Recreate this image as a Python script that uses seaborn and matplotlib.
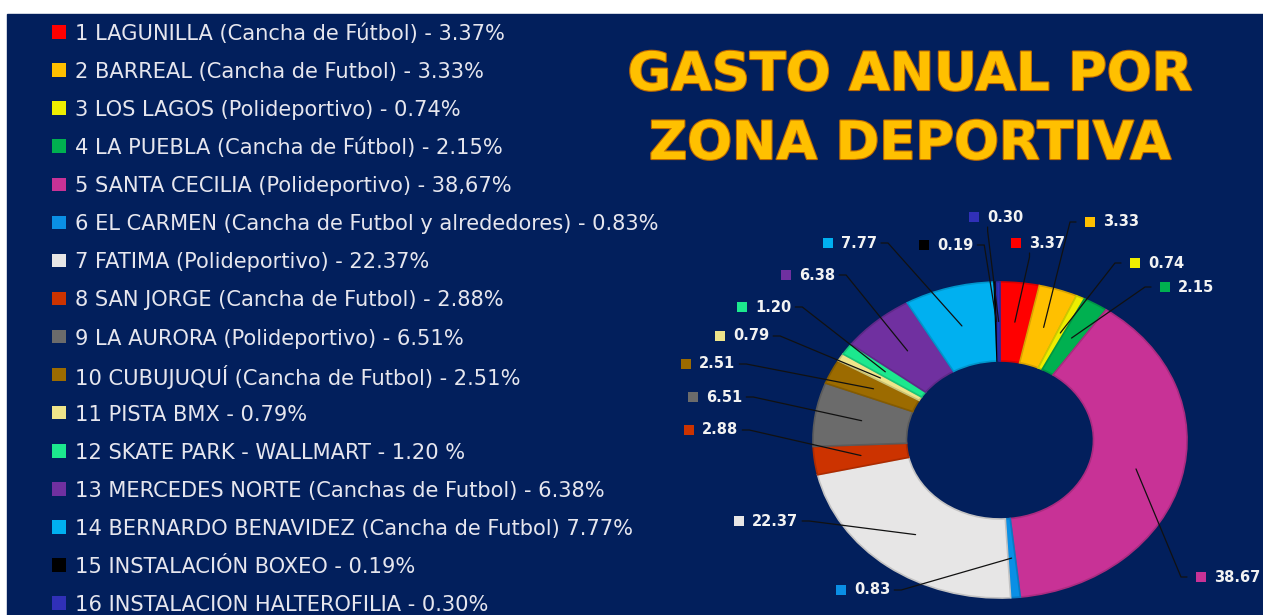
import numpy as np
import pandas as pd
import matplotlib
matplotlib.use("Agg")
import matplotlib.pyplot as plt
import matplotlib.colors as mcolors
import matplotlib.patheffects as pe
from matplotlib.patches import Rectangle
import seaborn as sns

# ---------------- data ----------------
legend_names = [
    "1 LAGUNILLA (Cancha de Fútbol) - 3.37%",
    "2 BARREAL (Cancha de Futbol) - 3.33%",
    "3 LOS LAGOS (Polideportivo) - 0.74%",
    "4 LA PUEBLA (Cancha de Fútbol) - 2.15%",
    "5 SANTA CECILIA (Polideportivo) - 38,67%",
    "6 EL CARMEN (Cancha de Futbol y alrededores) - 0.83%",
    "7 FATIMA (Polideportivo) - 22.37%",
    "8 SAN JORGE (Cancha de Futbol) - 2.88%",
    "9 LA AURORA (Polideportivo) - 6.51%",
    "10 CUBUJUQUÍ (Cancha de Futbol) - 2.51%",
    "11 PISTA BMX - 0.79%",
    "12 SKATE PARK - WALLMART - 1.20 %",
    "13 MERCEDES NORTE (Canchas de Futbol) - 6.38%",
    "14 BERNARDO BENAVIDEZ (Cancha de Futbol) 7.77%",
    "15 INSTALACIÓN BOXEO - 0.19%",
    "16 INSTALACION HALTEROFILIA - 0.30%",
]
values = [3.37, 3.33, 0.74, 2.15, 38.67, 0.83, 22.37, 2.88,
          6.51, 2.51, 0.79, 1.20, 6.38, 7.77, 0.19, 0.30]
value_labels = ["3.37", "3.33", "0.74", "2.15", "38.67", "0.83", "22.37", "2.88",
                "6.51", "2.51", "0.79", "1.20", "6.38", "7.77", "0.19", "0.30"]
title_lines = ["GASTO ANUAL POR", "ZONA DEPORTIVA"]

# ---------------- styles / layout ----------------
colors = ["#FF0000", "#FFC000", "#EEEE00", "#00B050", "#C83296", "#0A8FE5",
          "#E7E6E6", "#CC3300", "#6B6B6B", "#9C6B00", "#EEE48A", "#1CE88E",
          "#7030A0", "#00B0F0", "#000000", "#3030B8"]
NAVY = "#021F5C"
W, H = 1263, 615
# label square centres (pixels from top-left) and leader attachment side
label_layout = [
    (1016, 243, "bottom"), (1090, 222, "left"), (1135, 263, "left"), (1165, 287, "left"),
    (1201, 577, "left"), (841, 590, "right"), (739, 521, "right"), (689, 430, "right"),
    (693, 397, "right"), (686, 364, "right"), (720, 336, "right"), (742, 307, "right"),
    (786, 275, "right"), (828, 243, "right"), (924, 245, "right"), (974, 217, "bottom"),
]
pie_cx, pie_cy, pie_rx, pie_ry = 1000, 440, 187, 158

sns.set_style("white")
plt.rcParams["font.family"] = ["DejaVu Sans"]

fig = plt.figure(figsize=(W / 100, H / 100), dpi=100, facecolor="white")
fig.add_artist(Rectangle((7 / W, 0), (W - 7) / W, (H - 14) / H,
                         transform=fig.transFigure, color=NAVY, zorder=-10))

# pie axes (stretched horizontally like the original)
L = 1.1
ax_pie = fig.add_axes([(pie_cx - L * pie_rx) / W, (H - pie_cy - L * pie_ry) / H,
                       2 * L * pie_rx / W, 2 * L * pie_ry / H])
wedges, _ = ax_pie.pie(values, colors=colors, startangle=90, counterclock=False,
                       wedgeprops=dict(width=0.5, linewidth=1.2))
for w, c in zip(wedges, colors):
    rgb = np.array(mcolors.to_rgb(c)) * 0.85
    w.set_edgecolor(rgb)
ax_pie.set_aspect("auto")
ax_pie.set_xlim(-L, L)
ax_pie.set_ylim(-L, L)
ax_pie.set_facecolor("none")
ax_pie.axis("off")

# overlay axes in pixel coordinates
ax = fig.add_axes([0, 0, 1, 1], zorder=5)
ax.set_xlim(0, W)
ax.set_ylim(H, 0)
ax.set_facecolor("none")
ax.axis("off")

# legend list
rows = np.arange(len(legend_names))
leg_df = pd.DataFrame({"x": 59, "y": 32 + rows * 38.07, "name": legend_names})
sns.scatterplot(data=leg_df, x="x", y="y", hue="name", palette=colors, marker="s",
                s=95, edgecolor="none", legend=False, ax=ax)
for _, r in leg_df.iterrows():
    ax.text(75, r["y"], r["name"], color="#E6E6EE", fontsize=15.1,
            va="center_baseline", ha="left")

# title
for i, t in enumerate(title_lines):
    ax.text(910, 75 + i * 69, t, color="#FFC000", fontsize=38, fontweight="bold",
            ha="center", va="center",
            path_effects=[pe.Stroke(linewidth=1.6, foreground="#C06A00"), pe.Normal()])

# data labels
lab_df = pd.DataFrame({"x": [p[0] for p in label_layout],
                       "y": [p[1] for p in label_layout], "name": legend_names})
sns.scatterplot(data=lab_df, x="x", y="y", hue="name", palette=colors, marker="s",
                s=60, edgecolor="none", legend=False, ax=ax)
texts = []
for (x, y, side), lab in zip(label_layout, value_labels):
    texts.append(ax.text(x + 13, y, lab, color="#F2F2F2", fontsize=10.5,
                         fontweight="bold", va="center", ha="left"))

fig.canvas.draw()
inv = ax.transData.inverted()
for wdg, (x, y, side), t in zip(wedges, label_layout, texts):
    mid = np.deg2rad((wdg.theta1 + wdg.theta2) / 2)
    px, py = inv.transform(ax_pie.transData.transform((0.75 * np.cos(mid), 0.75 * np.sin(mid))))
    bb = t.get_window_extent()
    (tx0, _), (tx1, _) = inv.transform([[bb.x0, bb.y0], [bb.x1, bb.y1]])
    if side == "right":
        ax_x, ax_y = tx1 + 4, y
        pts = [(ax_x, ax_y), (ax_x + 7, ax_y), (px, py)]
    elif side == "left":
        ax_x, ax_y = x - 14, y
        pts = [(ax_x, ax_y), (ax_x - 6, ax_y), (px, py)]
    else:
        ax_x, ax_y = (x - 6 + tx1) / 2 - 8, y + 10
        pts = [(ax_x, ax_y), (ax_x, ax_y + 4), (px, py)]
    xs, ys = zip(*pts)
    ax.plot(xs, ys, color="#111111", lw=0.9, zorder=4)

fig.savefig("out.png", dpi=100, facecolor="white")
